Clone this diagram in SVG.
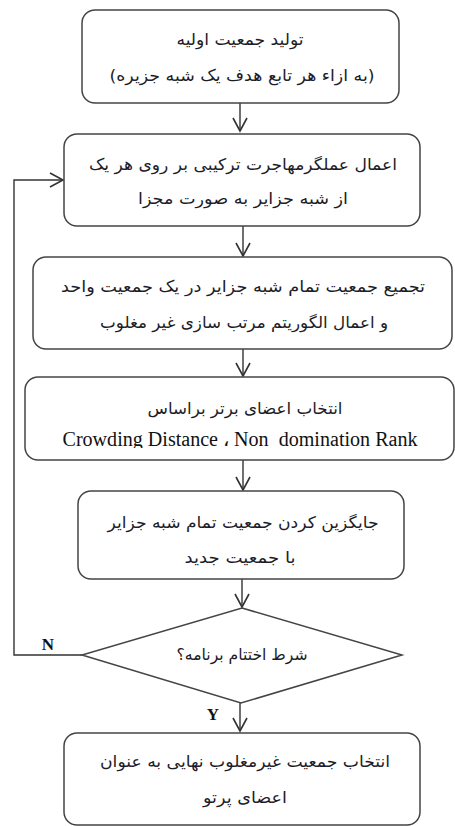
<svg xmlns="http://www.w3.org/2000/svg" width="455" height="826" viewBox="0 0 455 826">
<style>
.box{fill:#fff;stroke:#444;stroke-width:1.5}
.fa{font-family:"DejaVu Sans",sans-serif;font-size:16px;fill:#1c1c28;text-anchor:middle;direction:rtl}
.en{font-family:"Liberation Serif",serif;font-size:20px;fill:#111;text-anchor:middle}
.lbl{font-family:"Liberation Serif",serif;font-size:17px;font-weight:bold;fill:#111;text-anchor:middle}
.ln{fill:none;stroke:#333;stroke-width:1.4}
</style>
<defs>
<marker id="ah" markerUnits="userSpaceOnUse" viewBox="-15 -9 17 18" refX="0" refY="0" markerWidth="17" markerHeight="18" orient="auto">
<path d="M-13,-7 L0,0 L-13,7" fill="none" stroke="#333" stroke-width="1.6"/>
</marker>
<clipPath id="c4"><rect x="25" y="377" width="430" height="71"/></clipPath>
</defs>
<rect width="455" height="826" fill="#fff"/>
<g id="connectors">
<line class="ln" x1="240" y1="103" x2="240" y2="131" marker-end="url(#ah)"/>
<line class="ln" x1="243" y1="226" x2="243" y2="256" marker-end="url(#ah)"/>
<line class="ln" x1="243" y1="349" x2="243" y2="376" marker-end="url(#ah)"/>
<line class="ln" x1="243" y1="460" x2="243" y2="490" marker-end="url(#ah)"/>
<line class="ln" x1="242" y1="579" x2="242" y2="607" marker-end="url(#ah)"/>
<line class="ln" x1="240" y1="703" x2="240" y2="731" marker-end="url(#ah)"/>
<polyline class="ln" points="82,655 14,655 14,180 63,180" marker-end="url(#ah)"/>
<text class="lbl" x="48" y="650">N</text>
<text class="lbl" x="213" y="720">Y</text>
</g>
<g id="n1">
<rect class="box" x="82" y="10" width="317" height="93" rx="13"/>
<text class="fa" x="240" y="45" textLength="127" lengthAdjust="spacingAndGlyphs">تولید جمعیت اولیه</text>
<text class="fa" x="242" y="81" textLength="265" lengthAdjust="spacingAndGlyphs">(به ازاء هر تابع هدف یک شبه جزیره)</text>
</g>
<g id="n2">
<rect class="box" x="64" y="134" width="356" height="92" rx="13"/>
<text class="fa" x="243" y="170" textLength="308" lengthAdjust="spacingAndGlyphs">اعمال عملگرمهاجرت ترکیبی بر روی هر یک</text>
<text class="fa" x="243" y="204" textLength="210" lengthAdjust="spacingAndGlyphs">از شبه جزایر به صورت مجزا</text>
</g>
<g id="n3">
<rect class="box" x="33" y="257" width="419" height="92" rx="13"/>
<text class="fa" x="243" y="292" textLength="364" lengthAdjust="spacingAndGlyphs">تجمیع جمعیت تمام شبه جزایر در یک جمعیت واحد</text>
<text class="fa" x="244" y="328" textLength="288" lengthAdjust="spacingAndGlyphs">و اعمال الگوریتم مرتب سازی غیر مغلوب</text>
</g>
<g id="n4">
<rect class="box" x="25" y="377" width="429" height="83" rx="13"/>
<text class="fa" x="245" y="414" textLength="195" lengthAdjust="spacingAndGlyphs">انتخاب اعضای برتر براساس</text>
<text class="en" x="240" y="446" xml:space="preserve" textLength="355" lengthAdjust="spacingAndGlyphs" clip-path="url(#c4)">Crowding Distance ، Non  domination Rank</text>
</g>
<g id="n5">
<rect class="box" x="78" y="491" width="326" height="88" rx="13"/>
<text class="fa" x="243" y="528" textLength="271" lengthAdjust="spacingAndGlyphs">جایگزین کردن جمعیت تمام شبه جزایر</text>
<text class="fa" x="240" y="563" textLength="111" lengthAdjust="spacingAndGlyphs">با جمعیت جدید</text>
</g>
<g id="n6">
<polygon class="box" points="242,608 402,655 241,703 82,655"/>
<text class="fa" x="242" y="660" textLength="131" lengthAdjust="spacingAndGlyphs">شرط اختتام برنامه؟</text>
</g>
<g id="n7">
<rect class="box" x="64" y="733" width="356" height="92" rx="13"/>
<text class="fa" x="245" y="767" textLength="290" lengthAdjust="spacingAndGlyphs">انتخاب جمعیت غیرمغلوب نهایی به عنوان</text>
<text class="fa" x="245" y="803" textLength="84" lengthAdjust="spacingAndGlyphs">اعضای پرتو</text>
</g>
</svg>
